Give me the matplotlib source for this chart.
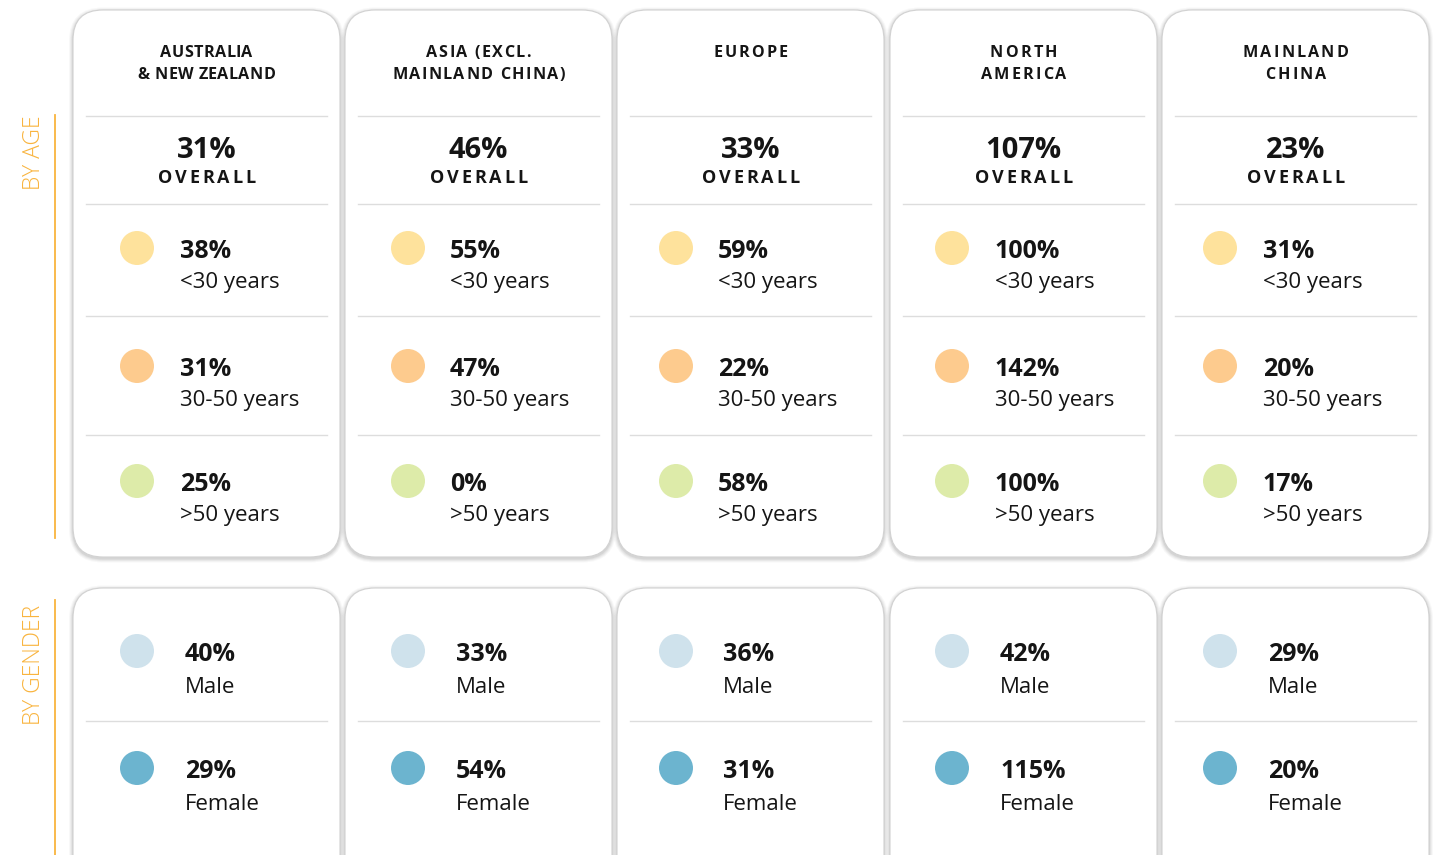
import matplotlib
matplotlib.use("Agg")
import matplotlib.pyplot as plt
from matplotlib.patches import FancyBboxPatch, Circle
from matplotlib.font_manager import FontProperties
from matplotlib.textpath import TextToPath

# ---------------- data ----------------
regions = ["AUSTRALIA\n& NEW ZEALAND", "ASIA (EXCL.\nMAINLAND CHINA)", "EUROPE",
           "NORTH\nAMERICA", "MAINLAND\nCHINA"]
overall = [31, 46, 33, 107, 23]
age_labels = ["<30 years", "30-50 years", ">50 years"]
age_under30 = [38, 55, 59, 100, 31]
age_30to50 = [31, 47, 22, 142, 20]
age_over50 = [25, 0, 58, 100, 17]
gender_labels = ["Male", "Female"]
male = [40, 33, 36, 42, 29]
female = [29, 54, 31, 115, 20]
section_labels = ["BY AGE", "BY GENDER"]

# ---------------- style / layout ----------------
W, H, DPI = 1436, 855, 100
FAMILY = ["Open Sans", "DejaVu Sans"]
age_colors = ["#FEE29C", "#FDCB8E", "#DDEBA9"]
gender_colors = ["#CFE2EC", "#6CB4CF"]
accent = "#F9B43E"
ink = "#151515"
sep_color = "#DDDDDD"
header_track = [0.4, 1.5, 2.2, 2.2, 2.2]

card_left = [73, 345, 617, 890, 1162]
card_w = 267
circle_x = [137, 408, 676, 952, 1220]
text_x = [180, 450, 718, 995, 1263]
gtext_x = [185, 456, 723, 1000, 1268]

fig = plt.figure(figsize=(W / DPI, H / DPI), dpi=DPI)
ax = fig.add_axes([0, 0, 1, 1])
ax.set_xlim(0, W)
ax.set_ylim(H, 0)
ax.axis("off")

ttp = TextToPath()


def fp(size, weight="normal"):
    return FontProperties(family=FAMILY, size=size, weight=weight)


def char_w(c, prop):
    w, h, d = ttp.get_text_width_height_descent(c, prop, ismath=False)
    return w * DPI / 72.0


def tracked(xc, y, s, prop, track, color=ink):
    widths = [char_w(c, prop) for c in s]
    total = sum(widths) + track * (len(s) - 1)
    x = xc - total / 2
    for c, w in zip(s, widths):
        ax.text(x, y, c, fontproperties=prop, ha="left", va="baseline", color=color, zorder=5)
        x += w + track


def card(x0, y0, w, h):
    for i, a in enumerate([0.05, 0.07, 0.09, 0.12]):
        pad = 4 - i
        ax.add_patch(FancyBboxPatch((x0 - pad, y0 - pad + 1.5), w + 2 * pad, h + 2 * pad,
                                    boxstyle="round,pad=0,rounding_size=%g" % (30 + pad),
                                    fc="#777777", ec="none", alpha=a, zorder=1))
    ax.add_patch(FancyBboxPatch((x0, y0), w, h, boxstyle="round,pad=0,rounding_size=30",
                                fc="white", ec="#d2d2d2", lw=0.8, zorder=2))


def sep(x0, w, y):
    ax.plot([x0 + 13, x0 + w - 13], [y, y], color=sep_color, lw=1.0, zorder=3)


age_series = [age_under30, age_30to50, age_over50]
gender_series = [male, female]

for i, name in enumerate(regions):
    x0 = card_left[i]
    xc = x0 + card_w / 2
    # top card
    card(x0, 10, card_w, 547)
    for j, ln in enumerate(name.split("\n")):
        tracked(xc, 57 + j * 22, ln, fp(11.6, "bold"), header_track[i])
    sep(x0, card_w, 116)
    ax.text(xc, 158, f"{overall[i]}%", fontproperties=fp(21, "bold"),
            ha="center", va="baseline", color=ink, zorder=4)
    tracked(xc, 183, "OVERALL", fp(13, "bold"), 2.8)
    sep(x0, card_w, 204)
    for k, (series, lab, col) in enumerate(zip(age_series, age_labels, age_colors)):
        cy = [248, 366, 481][k]
        ax.add_patch(Circle((circle_x[i], cy), 17, fc=col, ec="none", zorder=4))
        ax.text(text_x[i], cy + 10, f"{series[i]}%", fontproperties=fp(18, "bold"),
                ha="left", va="baseline", color=ink, zorder=4)
        ax.text(text_x[i], cy + 40, lab, fontproperties=fp(16),
                ha="left", va="baseline", color=ink, zorder=4)
    sep(x0, card_w, 316)
    sep(x0, card_w, 435)

    # bottom card
    card(x0, 588, card_w, 320)
    for k, (series, lab, col) in enumerate(zip(gender_series, gender_labels, gender_colors)):
        cy = [651, 768][k]
        ax.add_patch(Circle((circle_x[i], cy), 17, fc=col, ec="none", zorder=4))
        ax.text(gtext_x[i], cy + 10, f"{series[i]}%", fontproperties=fp(18, "bold"),
                ha="left", va="baseline", color=ink, zorder=4)
        ax.text(gtext_x[i], cy + 42, lab, fontproperties=fp(16),
                ha="left", va="baseline", color=ink, zorder=4)
    sep(x0, card_w, 721)

# section labels
ax.text(34, 153, section_labels[0], fontproperties=fp(16.5, "light"), color=accent,
        rotation=90, ha="center", va="center")
ax.plot([55, 55], [115, 538], color=accent, lw=1.3)
ax.text(34, 665, section_labels[1], fontproperties=fp(16.5, "light"), color=accent,
        rotation=90, ha="center", va="center")
ax.plot([55, 55], [600, 855], color=accent, lw=1.3)

fig.savefig("out.png", dpi=DPI, facecolor="white")
